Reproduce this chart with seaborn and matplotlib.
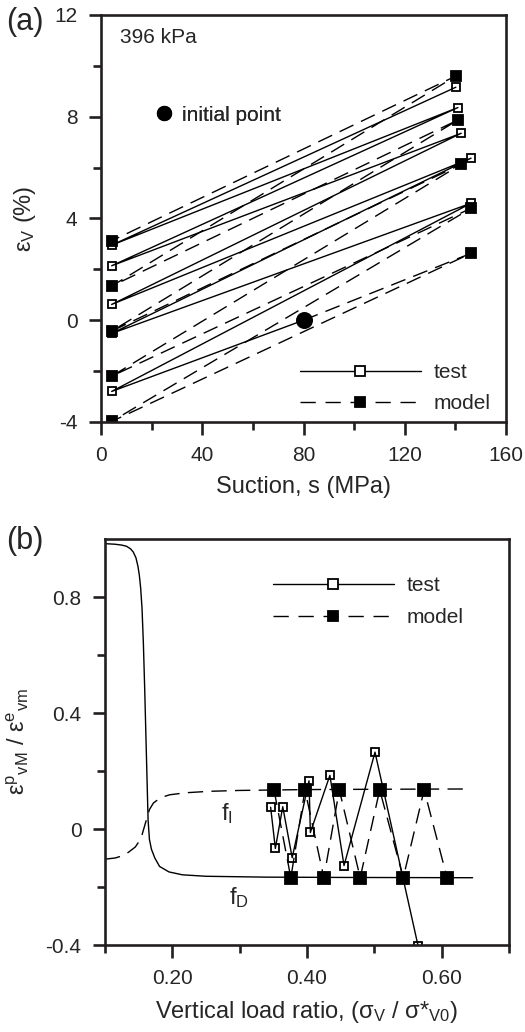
import matplotlib
matplotlib.use('Agg')
import matplotlib.pyplot as plt
from matplotlib.lines import Line2D
from matplotlib.ticker import MultipleLocator, FixedLocator, FixedFormatter
import seaborn as sns

# ---------------- Panel (a) data ----------------
initial_s = [80.0]
initial_ev = [0.0]
test_s = [80.0, 4.2, 146.2, 4.2, 146.2, 4.2, 142.3, 4.2, 141.0, 4.2, 140.2]
test_ev = [0.0, -2.80, 4.60, -0.52, 6.37, 0.62, 7.35, 2.14, 8.36, 2.95, 9.16]
model_s = [80.0, 146.2, 4.2, 146.2, 4.2, 142.3, 4.2, 141.0, 4.2, 140.2, 4.2]
model_ev = [0.0, 2.63, -3.98, 4.40, -2.20, 6.13, -0.43, 7.87, 1.34, 9.60, 3.12]

# ---------------- Panel (b) data ----------------
fI_x = [0.100, 0.115, 0.125, 0.135, 0.145, 0.150, 0.155, 0.160, 0.166, 0.172,
        0.178, 0.188, 0.196, 0.220, 0.255, 0.300, 0.400, 0.500, 0.632]
fI_y = [-0.104, -0.100, -0.093, -0.080, -0.062, -0.045, -0.020, 0.020, 0.067, 0.090,
        0.100, 0.112, 0.118, 0.125, 0.130, 0.133, 0.136, 0.137, 0.138]
fD_x = [0.100, 0.115, 0.125, 0.132, 0.138, 0.142, 0.146, 0.149, 0.151, 0.153, 0.155,
        0.157, 0.159, 0.161, 0.163, 0.164, 0.166, 0.169, 0.174, 0.181, 0.195, 0.215,
        0.250, 0.340, 0.450, 0.646]
fD_y = [0.984, 0.982, 0.979, 0.975, 0.966, 0.955, 0.935, 0.905, 0.875, 0.830, 0.760,
        0.640, 0.480, 0.300, 0.120, 0.030, -0.036, -0.070, -0.100, -0.129, -0.148, -0.158,
        -0.163, -0.166, -0.167, -0.168]
test_b_x = [0.346, 0.353, 0.364, 0.378, 0.403, 0.405, 0.434, 0.455, 0.501, 0.565]
test_b_y = [0.075, -0.067, 0.077, -0.099, 0.166, -0.012, 0.185, -0.126, 0.265, -0.403]
model_b_x = [0.351, 0.376, 0.397, 0.425, 0.448, 0.479, 0.508, 0.543, 0.574, 0.608]
model_b_y = [0.135, -0.168, 0.135, -0.168, 0.135, -0.168, 0.135, -0.168, 0.135, -0.168]

a_xticks = [0, 40, 80, 120, 160]
a_yticks = [-4, 0, 4, 8, 12]
b_xticks = [0.2, 0.4, 0.6]
b_xlabels = ['0.20', '0.40', '0.60']
b_yticks = [-0.4, 0.0, 0.4, 0.8]
b_ylabels = ['-0.4', '0', '0.4', '0.8']

sns.set_style('ticks')
plt.rcParams['font.family'] = ['Liberation Sans', 'DejaVu Sans']
plt.rcParams['mathtext.default'] = 'regular'
plt.rcParams['axes.unicode_minus'] = False

FS = 15
LW = 1.0
DASH = [11, 6]

fig = plt.figure(figsize=(5.25, 10.32), dpi=100)
axA = fig.add_axes([0.1924, 0.5911, 0.7714, 0.3944])
axB = fig.add_axes([0.2000, 0.0843, 0.7695, 0.3934])


def style_axes(ax):
    for sp in ax.spines.values():
        sp.set_linewidth(1.9)
        sp.set_color('#231f20')
    ax.tick_params(which='major', direction='out', length=9, width=1.9, pad=8,
                   labelsize=FS, color='#231f20', top=False, right=False)
    ax.tick_params(which='minor', direction='out', length=6, width=1.9,
                   color='#231f20', top=False, right=False)


def draw_path(ax, x, y, dashed, filled, ms, markevery=None):
    sns.lineplot(x=x, y=y, sort=False, estimator=None, ax=ax, color='black',
                 lw=LW, marker='s', markersize=ms, markeredgecolor='black',
                 markeredgewidth=1.3)
    ln = ax.lines[-1]
    ln.set_markerfacecolor('black' if filled else 'none')
    ln.set_markeredgecolor('black')
    if dashed:
        ln.set_dashes(DASH)
    if markevery is not None:
        ln.set_markevery(markevery)
    return ln


# ---------------- Panel (a) ----------------
draw_path(axA, test_s, test_ev, dashed=False, filled=False, ms=6.0, markevery=list(range(1, len(test_s))))
draw_path(axA, model_s, model_ev, dashed=True, filled=True, ms=7.0, markevery=list(range(1, len(model_s))))
sns.scatterplot(x=initial_s, y=initial_ev, ax=axA, color='black', s=150, edgecolor='black', linewidth=0, zorder=5)

axA.set_xlim(0, 160)
axA.set_ylim(-4, 12)
axA.xaxis.set_major_locator(FixedLocator(a_xticks))
axA.xaxis.set_minor_locator(MultipleLocator(20))
axA.yaxis.set_major_locator(FixedLocator(a_yticks))
axA.yaxis.set_minor_locator(MultipleLocator(2))
style_axes(axA)
axA.set_xlabel('Suction, s (MPa)', fontsize=17, labelpad=8)
axA.set_ylabel('ε$_V$ (%)', fontsize=17, labelpad=12)

axA.text(0.047, 0.931, '396 kPa', transform=axA.transAxes, fontsize=FS, ha='left', va='baseline')

h_test = Line2D([], [], color='black', lw=LW, marker='s', ms=7, mfc='white', mec='black', mew=1.3)
h_model = Line2D([], [], color='black', lw=LW, marker='s', ms=7.5, mfc='black', mec='black', mew=1.3, dashes=[11, 7])
legA = axA.legend([h_test, h_model], ['test', 'model'], loc='upper left', bbox_to_anchor=(0.491, 0.145),
                  frameon=False, fontsize=FS, handlelength=5.8, handletextpad=0.6,
                  borderaxespad=0, borderpad=0, labelspacing=0.6)
axA.add_artist(legA)
h_init = Line2D([], [], color='black', ls='none', marker='o', ms=10)
legI = axA.legend([h_init], ['initial point'], loc='upper left', bbox_to_anchor=(0.13, 0.777),
                  frameon=False, fontsize=FS, handlelength=1.0, handletextpad=0.35,
                  borderaxespad=0, borderpad=0)
axA.add_artist(legI)

# ---------------- Panel (b) ----------------
sns.lineplot(x=fI_x, y=fI_y, sort=False, estimator=None, ax=axB, color='black', lw=LW)
axB.lines[-1].set_dashes(DASH)
sns.lineplot(x=fD_x, y=fD_y, sort=False, estimator=None, ax=axB, color='black', lw=LW)
draw_path(axB, model_b_x, model_b_y, dashed=True, filled=True, ms=8.0)
draw_path(axB, test_b_x, test_b_y, dashed=False, filled=False, ms=6.0)

axB.set_xlim(0.1, 0.7)
axB.set_ylim(-0.4, 1.0)
axB.xaxis.set_major_locator(FixedLocator(b_xticks))
axB.xaxis.set_major_formatter(FixedFormatter(b_xlabels))
axB.xaxis.set_minor_locator(MultipleLocator(0.1))
axB.yaxis.set_major_locator(FixedLocator(b_yticks))
axB.yaxis.set_major_formatter(FixedFormatter(b_ylabels))
axB.yaxis.set_minor_locator(FixedLocator([-0.2, 0.2, 0.6]))
style_axes(axB)
axB.set_xlabel('Vertical load ratio, (σ$_V$ / σ*$_{V0}$)', fontsize=17, labelpad=8)
axB.set_ylabel('ε$^p$$_{vM}$ / ε$^e$$_{vm}$', fontsize=17, labelpad=10)

axB.text(0.2725, 0.032, 'f$_I$', fontsize=17, ha='left', va='baseline')
axB.text(0.2845, -0.26, 'f$_D$', fontsize=17, ha='left', va='baseline')

h_test_b = Line2D([], [], color='black', lw=LW, marker='s', ms=7, mfc='white', mec='black', mew=1.3)
h_model_b = Line2D([], [], color='black', lw=LW, marker='s', ms=7.5, mfc='black', mec='black', mew=1.3, dashes=[11, 7])
legB = axB.legend([h_test_b, h_model_b], ['test', 'model'], loc='upper left', bbox_to_anchor=(0.416, 0.908),
                  frameon=False, fontsize=FS, handlelength=5.8, handletextpad=0.6,
                  borderaxespad=0, borderpad=0, labelspacing=0.6)

fig.text(0.0476, 0.9787, '(a)', fontsize=22, ha='center', va='center')
fig.text(0.0476, 0.4758, '(b)', fontsize=22, ha='center', va='center')

fig.savefig('out.png', dpi=100)
